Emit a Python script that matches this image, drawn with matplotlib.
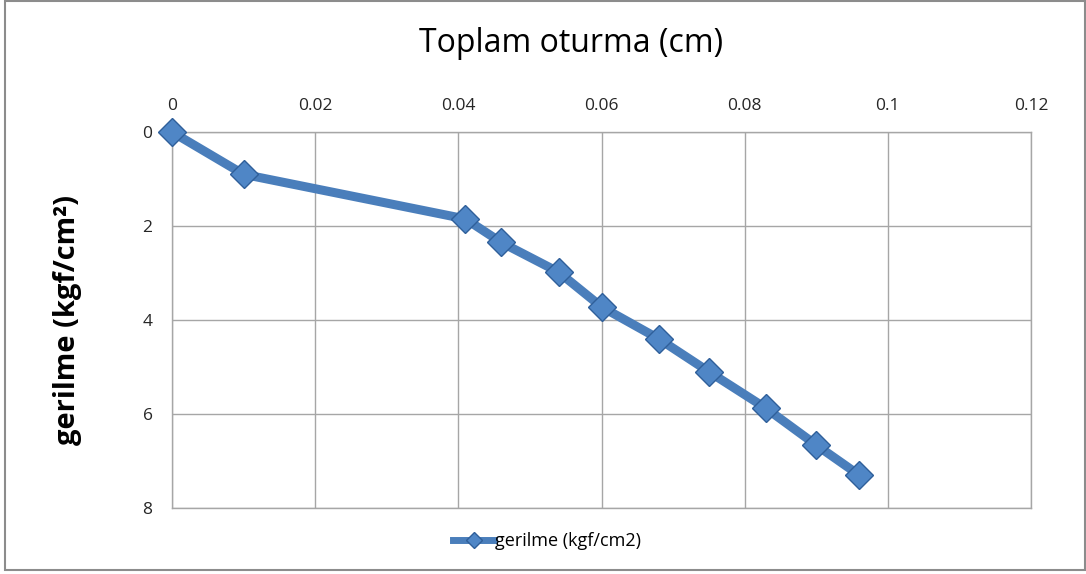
from matplotlib import pyplot as plt
from matplotlib.lines import Line2D
import matplotlib.patches as mpatches

# settlement (cm) vs. stress (kgf/cm2)
oturma = [0, 0.01, 0.041, 0.046, 0.054, 0.060, 0.068, 0.075, 0.083, 0.090, 0.096]
gerilme = [0, 0.9, 1.85, 2.35, 2.98, 3.72, 4.4, 5.1, 5.88, 6.66, 7.3]

x_ticks = [0, 0.02, 0.04, 0.06, 0.08, 0.1, 0.12]
x_labels = ['0', '0.02', '0.04', '0.06', '0.08', '0.1', '0.12']
y_ticks = [0, 2, 4, 6, 8]

line_color = '#4a7ebb'
grid_color = '#a6a6a6'

plt.rcParams['font.family'] = ['Open Sans', 'DejaVu Sans']

fig = plt.figure(figsize=(10.86, 5.74), dpi=100)
ax = fig.add_axes([172/1086, 1-508/574, (1031-172)/1086, (508-132)/574])

# outer chart border
fig.patches.append(mpatches.Rectangle((5/1086, 4/574), 1080/1086, 569/574,
                                      transform=fig.transFigure, fill=False,
                                      edgecolor='#8c8c8c', linewidth=1.5))

ax.plot(oturma, gerilme, color=line_color, linewidth=6.5, marker='D',
        markersize=14, markerfacecolor='#4f86c6', markeredgecolor='#2f5f9a',
        markeredgewidth=1, solid_joinstyle='round', zorder=3, clip_on=False)

ax.set_xlim(0, 0.12)
ax.set_ylim(8, 0)
ax.set_xticks(x_ticks)
ax.set_xticklabels(x_labels)
ax.set_yticks(y_ticks)
ax.xaxis.tick_top()
ax.tick_params(axis='both', length=0, labelsize=12.5, colors='#262626')
ax.tick_params(axis='x', pad=13)
ax.tick_params(axis='y', pad=14)

ax.grid(True, color=grid_color, linewidth=1)
ax.set_axisbelow(True)
for sp in ax.spines.values():
    sp.set_color(grid_color)
    sp.set_linewidth(1)

fig.text(571/1086, 1-43/574, 'Toplam oturma (cm)', ha='center', va='center', fontsize=23)
fig.text(68/1086, 1-320/574, 'gerilme (kgf/cm²)', ha='center', va='center',
         rotation=90, fontsize=21, fontweight='bold')

handle = Line2D([], [], color=line_color, linewidth=5, marker='D', markersize=8,
                markerfacecolor='#4f86c6', markeredgecolor='#2f5f9a')
fig.legend([handle], ['gerilme (kgf/cm2)'], loc='center', bbox_to_anchor=(547/1086, 1-541/574),
           frameon=False, fontsize=13, handlelength=2.3, handletextpad=0.05)

fig.savefig('out.png', dpi=100)
